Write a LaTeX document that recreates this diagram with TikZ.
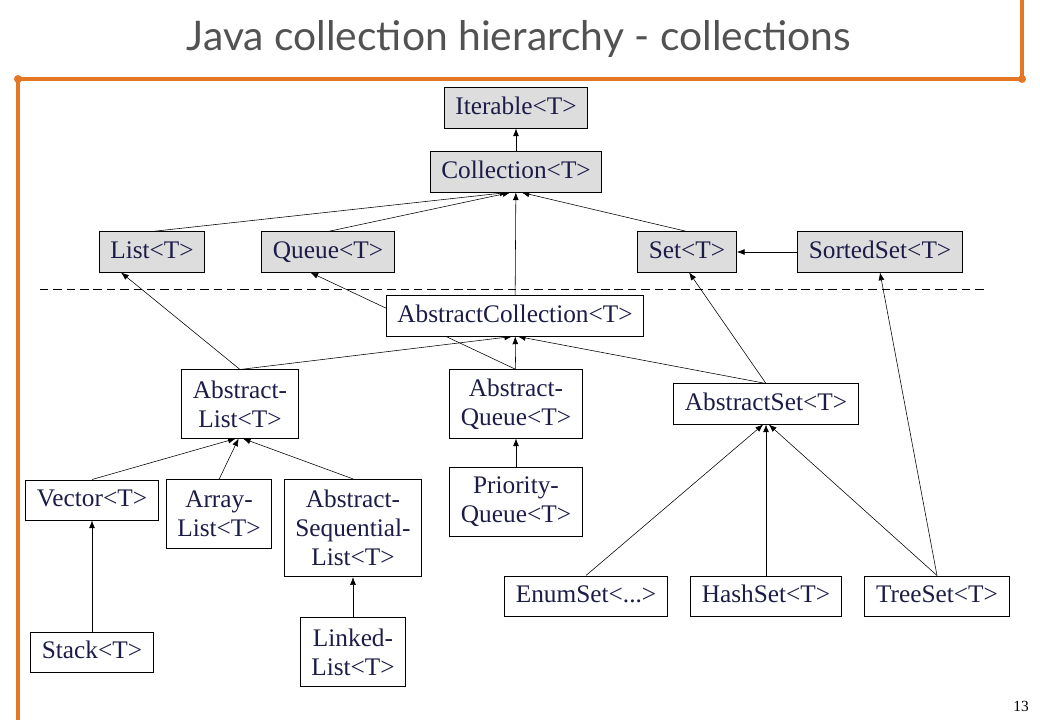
\documentclass[tikz,border=0pt]{standalone}
\usepackage{fontspec}
\setmainfont{Liberation Serif}
\newfontfamily\titlefont{Lato}
\usetikzlibrary{backgrounds,arrows.meta}
\definecolor{slideorange}{RGB}{228,119,38}
\definecolor{navy}{RGB}{28,28,72}
\definecolor{boxgrey}{RGB}{221,221,221}

\begin{document}
\begin{tikzpicture}[x=0.025cm,y=-0.025cm,>={Latex[length=5.5pt,width=4.2pt]},line width=0.7pt,
  iface/.style={draw,fill=boxgrey,align=center,inner xsep=8pt,minimum height=1cm,
    text=navy,font=\fontsize{18}{20.6}\selectfont},
  impl/.style={iface,fill=white},
  oneline/.style={text height=12.6pt,text depth=4pt},
  twolines/.style={impl,minimum height=1.7cm},
  threelines/.style={impl,minimum height=2.43cm}]
\useasboundingbox (0,0) rectangle (1040,720);

% slide frame and title
\draw [slideorange, line width=3pt] (1022,0) -- (1022,79) -- (18,79) -- (18,720);
\fill [slideorange] (18,79) circle (4) (1022,79) circle (4);
\node (title) at (519,39) {\titlefont\fontsize{29}{34}\selectfont\color{black!68}Java collection hierarchy - collections};
\node [font=\fontsize{11}{13}\selectfont] (page) at (1021,706) {13};

% interfaces
\node [iface,oneline] (iter) at (516,108) {Iterable<T>};
\node [iface,oneline] (coll) at (516,172) {Collection<T>};
\node [iface,oneline] (list) at (152,252) {List<T>};
\node [iface,oneline] (queue) at (328,252) {Queue<T>};
\node [iface,oneline] (set) at (687,252) {Set<T>};
\node [iface,oneline] (sorted) at (880,252) {SortedSet<T>};

\draw [dashed, dash pattern=on 6pt off 3.5pt, line width=0.6pt] (40,289) -- (985,289);

% classes
\node [impl,oneline] (acoll) at (515,316) {AbstractCollection<T>};
\node [twolines] (alist) at (240,404) {Abstract-\\List<T>};
\node [twolines] (aqueue) at (516,404) {Abstract-\\Queue<T>};
\node [impl,oneline] (aset) at (766,404) {AbstractSet<T>};
\node [impl,oneline] (vector) at (92,500) {Vector<T>};
\node [twolines] (array) at (219,514) {Array-\\List<T>};
\node [threelines] (aseq) at (353,528) {Abstract-\\Sequential-\\List<T>};
\node [twolines] (prio) at (516,502) {Priority-\\Queue<T>};
\node [impl,oneline] (stack) at (92,652) {Stack<T>};
\node [twolines] (linked) at (353,652) {Linked-\\List<T>};
\node [impl,oneline] (enum) at (586,596) {EnumSet<...>};
\node [impl,oneline] (hash) at (766,596) {HashSet<T>};
\node [impl,oneline] (tree) at (937,596) {TreeSet<T>};

\begin{scope}[on background layer]
\draw [->] (coll) -- (iter);
\draw [->] (list.north) -- ([xshift=-6pt]coll.south);
\draw [->] (queue.north) -- ([xshift=-4pt]coll.south);
\draw [->] (set.north) -- ([xshift=4pt]coll.south);
\draw [->] (sorted) -- (set);
\draw [->] (acoll) -- (coll);

\draw [->] (alist.north) -- ([xshift=-60pt]list.south east);
\draw [->] (alist.north) -- ([xshift=-2pt]acoll.south);
\draw [->] (aqueue.north) -- ([xshift=-60pt]queue.south east);
\draw [->] (aqueue) -- (acoll);
\draw [->] (aset.north) -- ([xshift=2pt]acoll.south);
\draw [->] (aset.north) -- ([xshift=-34pt]set.south east);

\draw [->] (vector.north) -- ([xshift=-3pt]alist.south);
\draw [->] (array.north) -- ([xshift=-1pt]alist.south);
\draw [->] (aseq.north) -- ([xshift=2pt]alist.south);
\draw [->] (stack) -- (vector);
\draw [->] (linked) -- (aseq);
\draw [->] (prio) -- (aqueue);

\draw [->] (enum.north) -- ([xshift=-2pt]aset.south);
\draw [->] (hash) -- (aset);
\draw [->] (tree.north) -- ([xshift=2pt]aset.south);
\draw [->] (tree.north) -- (sorted.south);
\end{scope}
\end{tikzpicture}
\end{document}
